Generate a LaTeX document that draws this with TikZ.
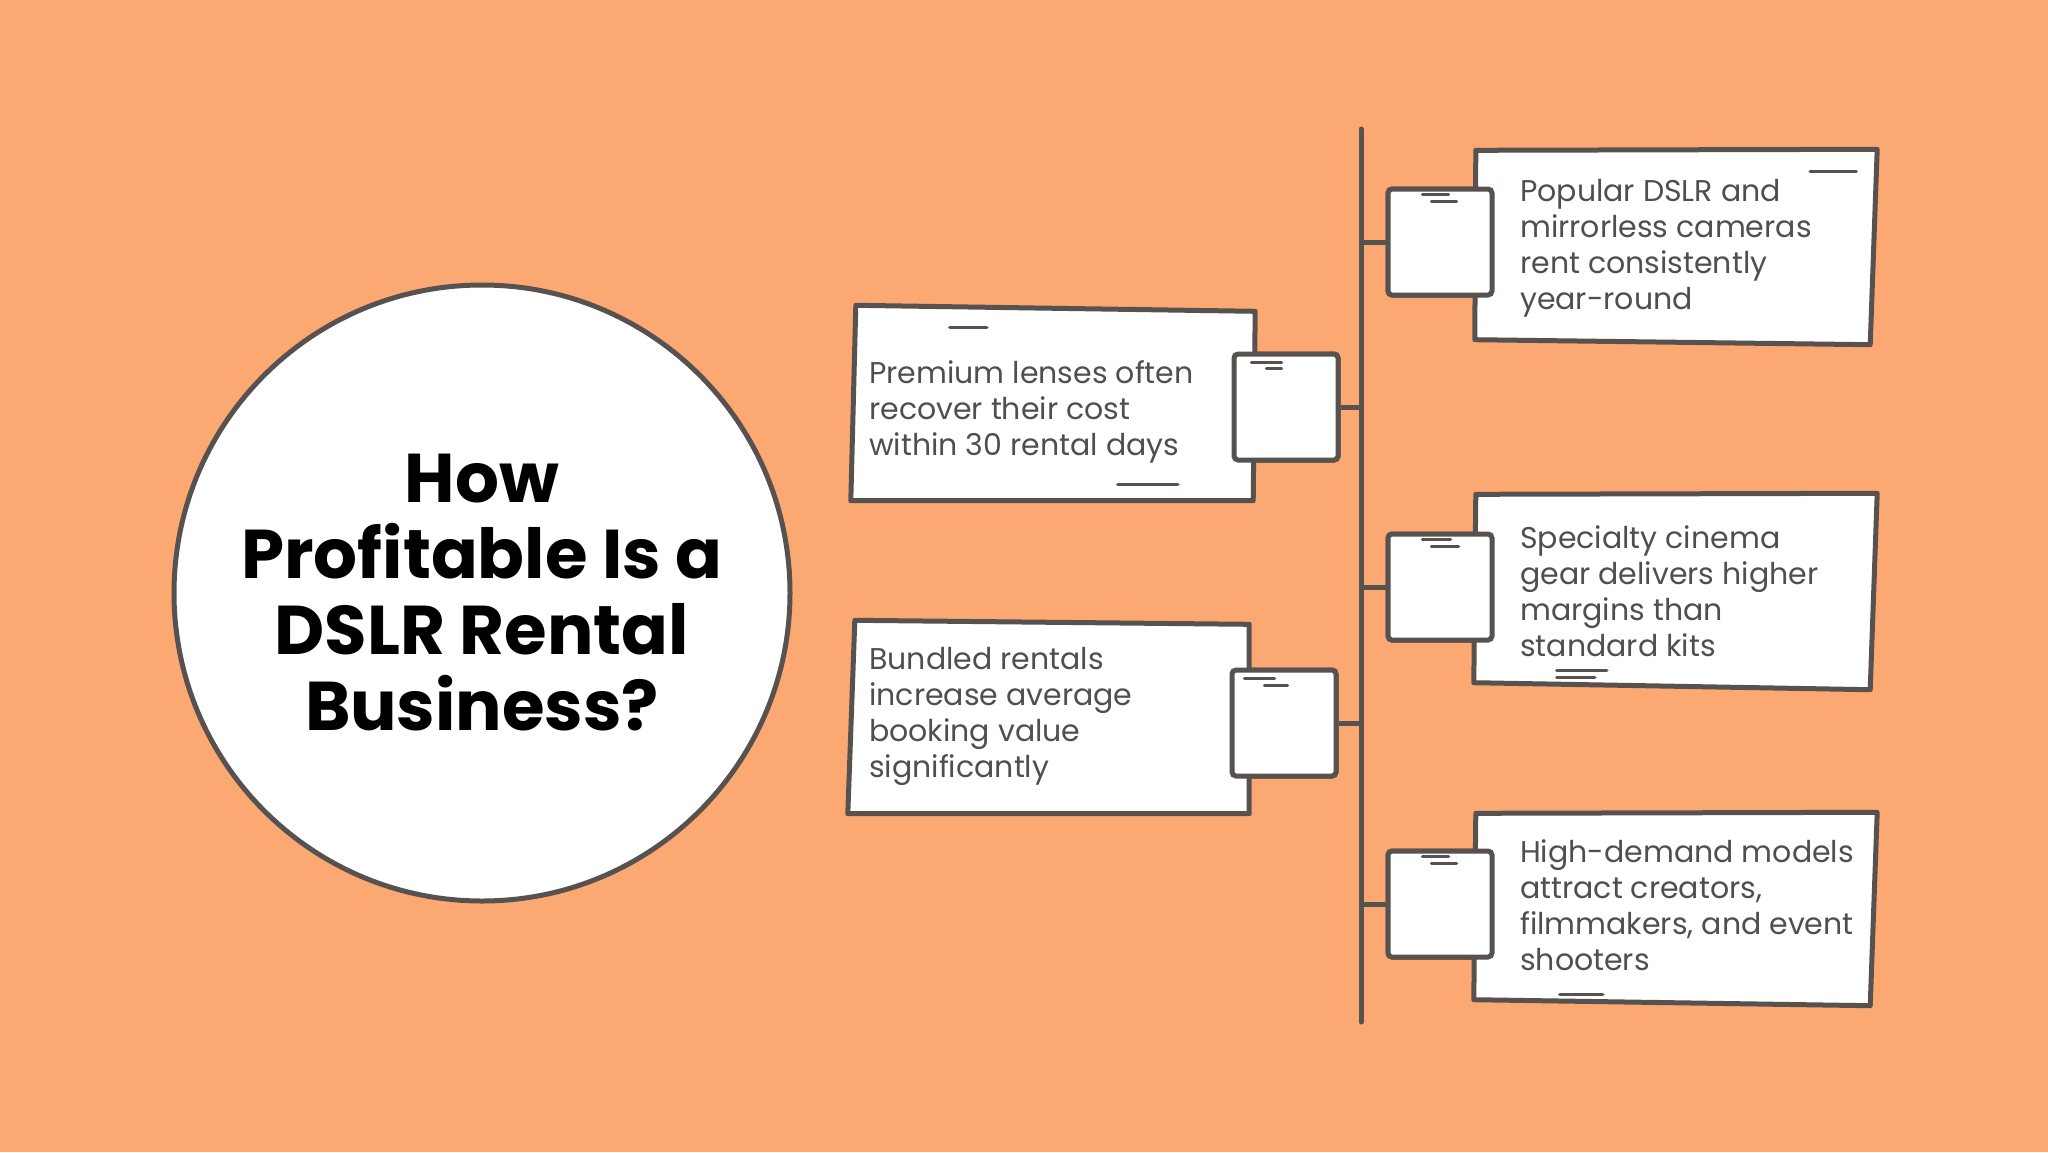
\documentclass[tikz,border=0pt]{standalone}
\usepackage{fontspec}
\setmainfont{Poppins}
\usetikzlibrary{positioning,calc}
\definecolor{hatter}{HTML}{FCA872}
\definecolor{vonal}{HTML}{57514F}
\definecolor{betu}{HTML}{4F4F4F}
\tikzset{
  kor/.style={circle,draw=vonal,line width=5pt,fill=white,minimum size=616pt,inner sep=0pt,
              align=center,font=\fontsize{69}{76}\selectfont\bfseries,text=black},
  kartya/.style={minimum width=402pt,minimum height=193pt,inner sep=0pt},
  keret/.style={draw=vonal,line width=5pt,fill=white,line join=round},
  negyzet/.style={draw=vonal,line width=5pt,fill=white,rounded corners=4pt,minimum width=104pt,
                  minimum height=106pt,inner sep=0pt},
  szoveg/.style={anchor=west,align=left,inner sep=0pt,text=betu,font=\fontsize{30}{36}\selectfont},
  ag/.style={draw=vonal,line width=5pt},
  vonas/.style={draw=vonal,line width=3.5pt,line cap=round},
}
\newcommand{\lap}[5]{\draw[keret] ($(#1.north west)+(#2)$) -- ($(#1.north east)+(#3)$)
  -- ($(#1.south east)+(#4)$) -- ($(#1.south west)+(#5)$) -- cycle;}

\begin{document}
\begin{tikzpicture}[x=1pt,y=-1pt]
  \fill[hatter] (0,0) rectangle (2048,1152);
  \useasboundingbox (0,0) rectangle (2048,1152);
  % 1. kor a kerdessel
  \node[kor] (kor) at (482,593) {How\\Profitable Is a\\DSLR Rental\\Business?};
  % 2. gerinc es agak
  \coordinate (gt) at (1361,129); \coordinate (ga) at (1361,1022);
  \draw[ag,line cap=round] (gt) -- (ga);
  \node[negyzet] (n1) at (1440,242) {}; \node[negyzet] (n3) at (1440,587) {};
  \node[negyzet] (n5) at (1440,904) {}; \node[negyzet] (n2) at (1286,407) {};
  \node[negyzet] (n4) at (1284,723) {};
  \draw[ag] (n1.west -| gt) -- (n1.west); \draw[ag] (n3.west -| gt) -- (n3.west);
  \draw[ag] (n5.west -| gt) -- (n5.west);
  \draw[ag] (n2.east) -- (n2.east -| gt); \draw[ag] (n4.east) -- (n4.east -| gt);
  % 3. kartyak
  \node[kartya] (k1) at (1676,247) {}; \lap{k1}{1,0}{0,-1}{-7,1}{0,-4}
  \node[kartya] (k3) at (1676,591) {}; \lap{k3}{1,0}{0,-1}{-7,2}{-1,-5}
  \node[kartya] (k5) at (1676,909) {}; \lap{k5}{1,1}{0,0}{-7,0}{-1,-6}
  \node[kartya,minimum width=400pt,minimum height=195pt] (k2) at (1053,403) {}; \lap{k2}{3,0}{2,6}{0,0}{-2,0}
  \node[kartya,minimum width=400pt] (k4) at (1051,717) {}; \lap{k4}{4,0}{-2,4}{-2,0}{-3,0}
  \draw[vonas] ($(k1.north east)+(-67,21)$) -- +(46,0);
  \draw[vonas] ($(k2.north west)+(97,22)$) -- +(37,0);
  \draw[vonas] ($(k2.south west)+(265,-16)$) -- +(60,0);
  \draw[vonas] ($(k3.south west)+(82,-17)$) -- +(50,0);
  \draw[vonas] ($(k3.south west)+(82,-10)$) -- +(38,0);
  \draw[vonas] ($(k5.south west)+(85,-11)$) -- +(43,0);
  % 4. negyzetek ujra, a kartyak folott
  \node[negyzet] at (n1) {}; \node[negyzet] at (n3) {}; \node[negyzet] at (n5) {};
  \node[negyzet] at (n2) {}; \node[negyzet] at (n4) {};
  \draw[vonas] ($(n1.north west)+(37,8)$) -- +(26,0); \draw[vonas] ($(n1.north west)+(46,15)$) -- +(25,0);
  \draw[vonas] ($(n3.north west)+(37,8)$) -- +(28,0); \draw[vonas] ($(n3.north west)+(46,15)$) -- +(27,0);
  \draw[vonas] ($(n5.north west)+(37,8)$) -- +(26,0); \draw[vonas] ($(n5.north west)+(46,15)$) -- +(25,0);
  \draw[vonas] ($(n2.north west)+(20,11)$) -- +(30,0); \draw[vonas] ($(n2.north west)+(35,17)$) -- +(15,0);
  \draw[vonas] ($(n4.north west)+(15,11)$) -- +(30,0); \draw[vonas] ($(n4.north west)+(35,18)$) -- +(23,0);
  % 5. szovegek
  \node[szoveg] (t1) at (1520,248) {Popular DSLR and\\mirrorless cameras\\rent consistently\\year-round};
  \node[szoveg] (t3) at (1520,591) {Specialty cinema\\gear delivers higher\\margins than\\standard kits};
  \node[szoveg] (t5) at (1520,905) {High-demand models\\attract creators,\\filmmakers, and event\\shooters};
  \node[szoveg] (t2) at (869,412) {Premium lenses often\\recover their cost\\within 30 rental days};
  \node[szoveg] (t4) at (869,716) {Bundled rentals\\increase average\\booking value\\significantly};
\end{tikzpicture}
\end{document}
